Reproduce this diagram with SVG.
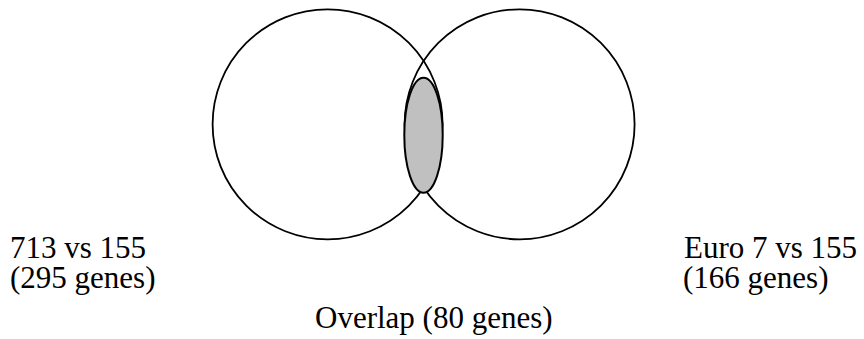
<svg xmlns="http://www.w3.org/2000/svg" width="864" height="339" viewBox="0 0 864 339">
  <style>
    .set { fill: none; stroke: #000; stroke-width: 1.8; }
    .overlap { fill: #c0c0c0; stroke: #000; stroke-width: 2; }
    .label { font-family: "Liberation Serif", "Times New Roman", serif; font-size: 31px; fill: #000; }
  </style>
  <rect width="864" height="339" fill="#fff"/>

  <!-- set A: 713 vs 155 -->
  <g id="set-713">
    <circle class="set" cx="327.6" cy="124.3" r="115"/>
    <text class="label" x="10" y="257.7">713 vs 155<tspan x="10" dy="30.7">(295 genes)</tspan></text>
  </g>

  <!-- set B: Euro 7 vs 155 -->
  <g id="set-euro7">
    <circle class="set" cx="519.6" cy="124.3" r="115"/>
    <text class="label" x="684" y="257.7">Euro 7 vs 155<tspan x="683" dy="30.7">(166 genes)</tspan></text>
  </g>

  <!-- shared genes -->
  <g id="overlap">
    <ellipse class="overlap" cx="423.5" cy="135.2" rx="19.2" ry="57.5"/>
    <text class="label" x="315" y="328.3">Overlap (80 genes)</text>
  </g>

  <g id="connectors"/>
</svg>
